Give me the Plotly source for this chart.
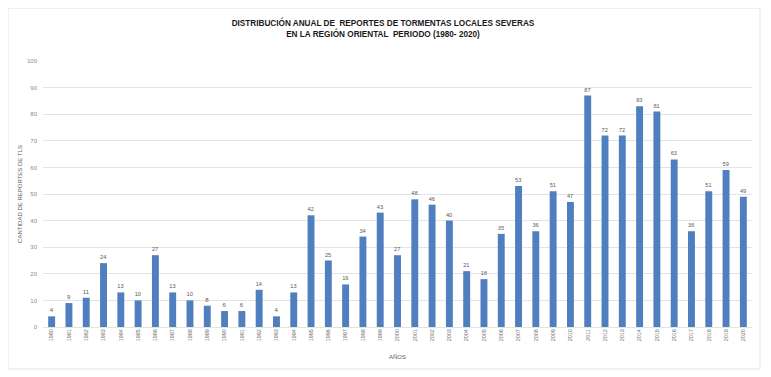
import plotly.graph_objects as go

years = [str(y) for y in range(1980, 2021)]
reports = [4, 9, 11, 24, 13, 10, 27, 13, 10, 8, 6, 6, 14, 4, 13, 42, 25, 16, 34, 43,
           27, 48, 46, 40, 21, 18, 35, 53, 36, 51, 47, 87, 72, 72, 83, 81, 63, 36, 51, 59, 49]
y_ticks = [0, 10, 20, 30, 40, 50, 60, 70, 80, 90, 100]

OFF = 8  # page offset of the figure inside the browser window
W, H = 771 - OFF, 377 - OFF
ML, MT = 43 - OFF, 61 - OFF
MR = W - (752 - OFF)
MB = H - (327 - OFF)
pw, ph = W - ML - MR, H - MT - MB

def px_x(sx):
    return (sx - OFF - ML) / pw

def px_y(sy):
    return (H - MB - (sy - OFF)) / ph

fig = go.Figure()
fig.add_trace(go.Bar(
    x=years, y=reports,
    marker=dict(color="#4f7fbe", line=dict(width=0)),
    text=[str(v) for v in reports],
    textposition="outside",
    textfont=dict(size=6, color="#595959", family="Liberation Sans"),
    cliponaxis=False,
))

fig.update_layout(
    width=W, height=H,
    margin=dict(l=ML, r=MR, t=MT, b=MB, autoexpand=False),
    paper_bgcolor="white", plot_bgcolor="white",
    bargap=0.6,
    showlegend=False,
    font=dict(family="Liberation Sans", color="#595959"),
    title=dict(
        text="DISTRIBUCIÓN ANUAL DE  REPORTES DE TORMENTAS LOCALES SEVERAS<br>EN LA REGIÓN ORIENTAL  PERIODO (1980- 2020)",
        x=(383 - OFF) / W, xanchor="center", y=1 - 18 / H, yanchor="top",
        font=dict(size=8.2, color="#1a1a1a", family="Liberation Sans", weight="bold"),
    ),
    xaxis=dict(
        tickangle=-90, tickfont=dict(size=5.5, color="#707070"),
        showgrid=False, showline=False, ticks="",
        title=dict(text="AÑOS", font=dict(size=6, color="#595959"), standoff=14),
    ),
    yaxis=dict(
        range=[0, 100], tickvals=y_ticks, tickfont=dict(size=6, color="#8a8a8a"),
        showgrid=True, gridcolor="#e3e3e3", gridwidth=1,
        zeroline=True, zerolinecolor="#e3e3e3", zerolinewidth=1,
        showline=False, ticks="", ticklabelstandoff=5,
        title=dict(text="CANTIDAD DE REPORTES DE TLS", font=dict(size=6, color="#595959"), standoff=3),
    ),
    shapes=[dict(
        type="rect", xref="paper", yref="paper",
        x0=px_x(8), x1=px_x(760), y0=px_y(369), y1=px_y(8),
        line=dict(color="#e3e3e3", width=1), fillcolor="rgba(0,0,0,0)", layer="below",
    )],
)

fig.write_html("out.html")
